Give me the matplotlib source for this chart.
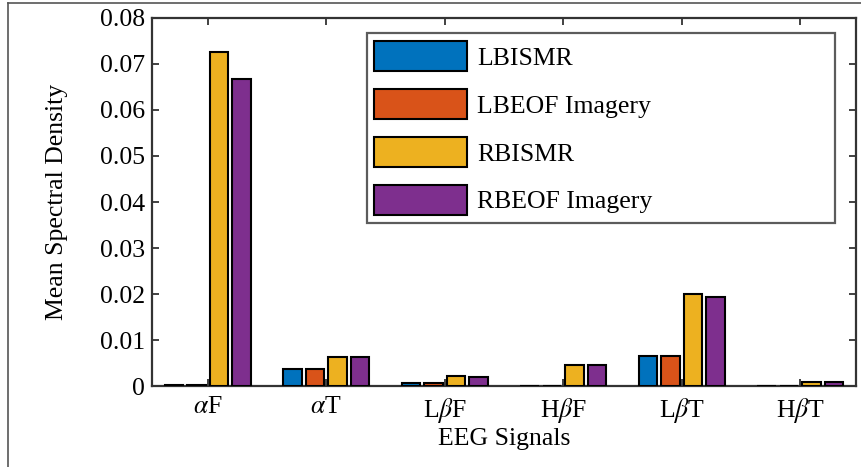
import numpy as np
import matplotlib.pyplot as plt
from matplotlib.lines import Line2D

plt.rcParams['font.family'] = ['Liberation Serif', 'DejaVu Serif']
plt.rcParams['mathtext.fontset'] = 'stix'

# data
signals = [r'$\alpha$F', r'$\alpha$T', r'L$\beta$F', r'H$\beta$F', r'L$\beta$T', r'H$\beta$T']
series = ['LBISMR', 'LBEOF Imagery', 'RBISMR', 'RBEOF Imagery']
lbismr = [0.0002, 0.0036, 0.0007, 0.0, 0.0066, 0.0]
lbeof = [0.0002, 0.0038, 0.0006, 0.0, 0.0066, 0.0]
rbismr = [0.0727, 0.0062, 0.0021, 0.0045, 0.0199, 0.0008]
rbeof = [0.0668, 0.0062, 0.0019, 0.0045, 0.0194, 0.0008]
colors = ['#0072BD', '#D95319', '#EDB120', '#7E2F8E']
yticks = [0, 0.01, 0.02, 0.03, 0.04, 0.05, 0.06, 0.07, 0.08]
ytick_labels = ['0', '0.01', '0.02', '0.03', '0.04', '0.05', '0.06', '0.07', '0.08']

fs = 18.5
fig = plt.figure(figsize=(8.62, 4.67), dpi=100)
ax = fig.add_axes([0.1763, 0.1734, 0.8167, 0.7881])

x = np.arange(1, len(signals) + 1)
step = 0.19
for i, (vals, name) in enumerate(zip([lbismr, lbeof, rbismr, rbeof], series)):
    ax.bar(x + (i - 1.5) * step, vals, width=0.155, color=colors[i],
           edgecolor='black', linewidth=1.5, label=name, zorder=3)

ax.set_xlim(0.53, 6.47)
ax.set_ylim(0, 0.08)
ax.set_xticks(x)
ax.set_xticklabels(signals, fontsize=fs)
ax.set_yticks(yticks)
ax.set_yticklabels(ytick_labels, fontsize=fs)
ax.tick_params(direction='in', length=5, width=1.3, color='#333333',
               top=True, right=True, pad=5)
ax.tick_params(axis='x', pad=7)
for s in ax.spines.values():
    s.set_linewidth(1.6)
    s.set_color('#333333')

ax.set_xlabel('EEG Signals', fontsize=fs, labelpad=2)
ax.set_ylabel('Mean Spectral Density', fontsize=fs, labelpad=23)

leg = ax.legend(loc='upper left', bbox_to_anchor=(0.305, 0.443, 0.665, 0.516),
                mode='expand', fontsize=fs, frameon=True, fancybox=False,
                handlelength=3.6, handleheight=1.45, handletextpad=0.4,
                labelspacing=0.68, borderpad=0.3, borderaxespad=0)
leg.get_frame().set_edgecolor('#333333')
leg.get_frame().set_linewidth(1.6)

# outer frame of the picture
fig.add_artist(Line2D([8 / 862, 8 / 862], [0, 1 - 3 / 467], color='#555555', lw=1.2))
fig.add_artist(Line2D([8 / 862, 1], [1 - 3 / 467, 1 - 3 / 467], color='#555555', lw=1.2))

fig.savefig('out.png', dpi=100)
